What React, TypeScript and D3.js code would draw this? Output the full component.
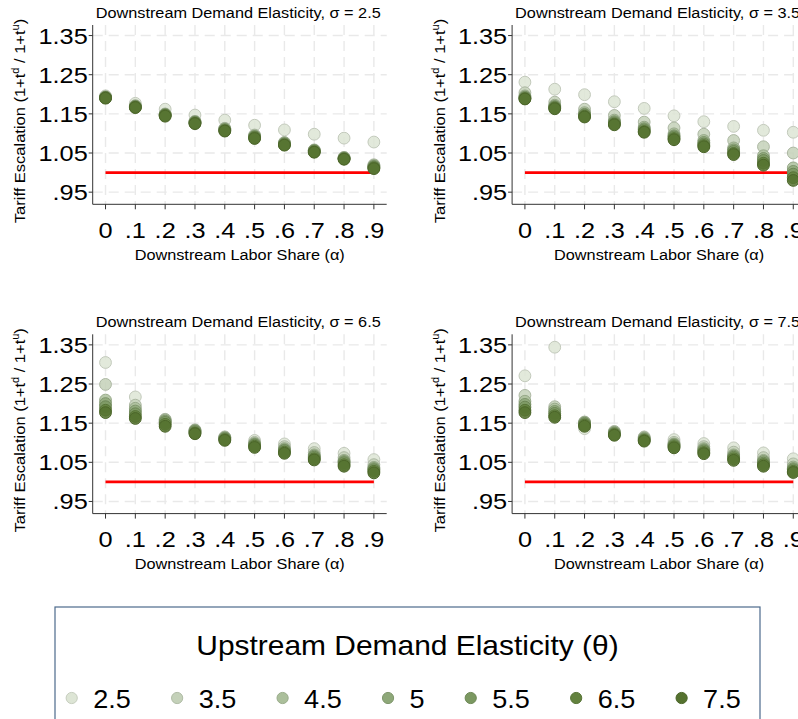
import React from 'react';
import * as d3 from 'd3';

// x categories: downstream labor share (alpha)
const alphas = [0, 0.1, 0.2, 0.3, 0.4, 0.5, 0.6, 0.7, 0.8, 0.9];
const alphaLabels = ['0', '.1', '.2', '.3', '.4', '.5', '.6', '.7', '.8', '.9'];
const yTicks = [0.95, 1.05, 1.15, 1.25, 1.35];
const yTickLabels = ['.95', '1.05', '1.15', '1.25', '1.35'];

// series: upstream demand elasticity (theta)
const thetas = ['2.5', '3.5', '4.5', '5', '5.5', '6.5', '7.5'];
const thetaColors = ['#dde5d5', '#c4d1b9', '#abbf9b', '#8ea879', '#7b9861', '#63823e', '#55722f'];

// panels: downstream demand elasticity (sigma)
const sigmas = ['2.5', '3.5', '6.5', '7.5'];

// one row per theta, one value per alpha
const sigma25 = [
  [1.196, 1.177, 1.162, 1.147, 1.134, 1.121, 1.109, 1.098, 1.088, 1.078],
  [1.194, 1.171, 1.150, 1.131, 1.113, 1.096, 1.077, 1.058, 1.039, 1.020],
  [1.193, 1.170, 1.149, 1.130, 1.112, 1.094, 1.076, 1.057, 1.038, 1.018],
  [1.192, 1.169, 1.148, 1.129, 1.110, 1.092, 1.074, 1.056, 1.037, 1.016],
  [1.192, 1.168, 1.147, 1.128, 1.109, 1.091, 1.073, 1.055, 1.036, 1.014],
  [1.191, 1.167, 1.146, 1.126, 1.107, 1.089, 1.071, 1.053, 1.035, 1.012],
  [1.190, 1.166, 1.144, 1.125, 1.106, 1.087, 1.070, 1.052, 1.034, 1.010],
];
const sigma35 = [
  [1.231, 1.213, 1.199, 1.181, 1.164, 1.145, 1.130, 1.118, 1.108, 1.103],
  [1.204, 1.180, 1.162, 1.146, 1.129, 1.114, 1.098, 1.082, 1.066, 1.050],
  [1.196, 1.172, 1.153, 1.134, 1.116, 1.099, 1.082, 1.063, 1.043, 1.012],
  [1.193, 1.169, 1.149, 1.130, 1.112, 1.094, 1.077, 1.058, 1.036, 1.003],
  [1.191, 1.167, 1.147, 1.127, 1.109, 1.091, 1.073, 1.054, 1.031, 0.996],
  [1.189, 1.165, 1.144, 1.124, 1.105, 1.087, 1.069, 1.049, 1.024, 0.987],
  [1.188, 1.163, 1.142, 1.122, 1.103, 1.084, 1.066, 1.046, 1.019, 0.980],
];
const sigma65 = [
  [1.305, 1.217, 1.150, 1.128, 1.114, 1.106, 1.097, 1.085, 1.073, 1.057],
  [1.249, 1.196, 1.160, 1.133, 1.115, 1.101, 1.090, 1.075, 1.062, 1.044],
  [1.209, 1.188, 1.158, 1.132, 1.113, 1.098, 1.085, 1.069, 1.055, 1.037],
  [1.200, 1.181, 1.155, 1.130, 1.112, 1.096, 1.082, 1.066, 1.052, 1.034],
  [1.192, 1.174, 1.152, 1.128, 1.110, 1.094, 1.080, 1.063, 1.049, 1.031],
  [1.183, 1.167, 1.147, 1.125, 1.108, 1.091, 1.076, 1.059, 1.044, 1.027],
  [1.177, 1.162, 1.142, 1.123, 1.106, 1.088, 1.073, 1.056, 1.040, 1.023],
];
const sigma75 = [
  [1.271, 1.344, 1.136, 1.126, 1.115, 1.108, 1.098, 1.087, 1.074, 1.059],
  [1.221, 1.192, 1.153, 1.129, 1.114, 1.101, 1.090, 1.076, 1.062, 1.046],
  [1.206, 1.186, 1.152, 1.127, 1.112, 1.097, 1.085, 1.069, 1.055, 1.038],
  [1.198, 1.180, 1.150, 1.125, 1.110, 1.095, 1.082, 1.066, 1.052, 1.034],
  [1.191, 1.175, 1.148, 1.123, 1.108, 1.093, 1.079, 1.063, 1.048, 1.031],
  [1.183, 1.169, 1.145, 1.121, 1.106, 1.090, 1.075, 1.059, 1.044, 1.027],
  [1.177, 1.165, 1.142, 1.119, 1.104, 1.087, 1.072, 1.055, 1.040, 1.024],
];
const panelData = [sigma25, sigma35, sigma65, sigma75];

const FONT = '"Liberation Sans", Arial, Helvetica, sans-serif';
const W = 798;
const H = 719;

const x = d3.scaleLinear().domain([-0.043, 0.943]).range([92.7, 386.7]);
const y = d3.scaleLinear().domain([0.919, 1.377]).range([204.3, 25]);

// text stretched horizontally a little, the source renders wider glyphs
function SText({ x: tx, y: ty, sx = 1, rotate = 0, children, ...rest }) {
  return (
    <text transform={`translate(${tx},${ty}) rotate(${rotate}) scale(${sx},1)`} {...rest}>
      {children}
    </text>
  );
}

function Panel({ title, data, dx, dy }) {
  const [x0, x1] = x.range();
  const [y0, y1] = y.range();
  return (
    <g transform={`translate(${dx},${dy})`}>
      {/* grid */}
      {yTicks.map(t => (
        <line key={'gy' + t} x1={x0} x2={x1} y1={y(t)} y2={y(t)}
          stroke="#e9e9e9" strokeWidth={1.4} strokeDasharray="10,6" />
      ))}
      {alphas.map(a => (
        <line key={'gx' + a} x1={x(a)} x2={x(a)} y1={y1} y2={y0}
          stroke="#e9e9e9" strokeWidth={1.4} strokeDasharray="10,6" />
      ))}
      {/* axes */}
      <line x1={x0} x2={x0} y1={y1} y2={y0} stroke="#333" strokeWidth={1} />
      <line x1={x0} x2={x1} y1={y0} y2={y0} stroke="#333" strokeWidth={1} />
      {yTicks.map((t, i) => (
        <g key={'ty' + t}>
          <line x1={x0 - 4} x2={x0} y1={y(t)} y2={y(t)} stroke="#333" />
          <SText x={x0 - 5} y={y(t)} sx={1.15} dy="0.36em" textAnchor="end" fontSize={22}>{yTickLabels[i]}</SText>
        </g>
      ))}
      {alphas.map((a, i) => (
        <g key={'tx' + a}>
          <line x1={x(a)} x2={x(a)} y1={y0} y2={y0 + 5} stroke="#333" />
          <SText x={x(a)} y={230} sx={1.15} dy="0.36em" textAnchor="middle" fontSize={22}>{alphaLabels[i]}</SText>
        </g>
      ))}
      {/* reference line at 1 */}
      <line x1={x(0)} x2={x(0.9)} y1={y(1)} y2={y(1)} stroke="#ff0000" strokeWidth={2.6} />
      {/* points */}
      {data.map((row, s) => (
        <g key={'s' + s}>
          {row.map((v, i) => (
            <circle key={i} cx={x(alphas[i])} cy={y(v)} r={5.9}
              fill={thetaColors[s]} fillOpacity={0.85}
              stroke={d3.color(thetaColors[s]).darker(0.35).formatHex()} strokeWidth={1} />
          ))}
        </g>
      ))}
      {/* titles */}
      <SText x={(x0 + x1) / 2 - 1.5} y={18} sx={1.085} textAnchor="middle" fontSize={15}>
        {`Downstream Demand Elasticity, σ = ${title}`}
      </SText>
      <SText x={(x0 + x1) / 2} y={260} sx={1.085} textAnchor="middle" fontSize={15}>Downstream Labor Share (α)</SText>
      <SText x={20} y={121} rotate={-90} sx={1.1} textAnchor="middle" dy="0.35em" fontSize={15}>
        Tariff Escalation (1+t<tspan fontSize={10} dy={-6}>d</tspan><tspan dy={6}> / 1+t</tspan>
        <tspan fontSize={10} dy={-6}>u</tspan><tspan dy={6}>)</tspan>
      </SText>
    </g>
  );
}

function Legend() {
  const charW = (s, fs) => s.split('').reduce((acc, c) => acc + (c === '.' ? 0.278 : 0.556), 0) * fs * 1.05;
  let cx = 71.7;
  const items = thetas.map((t, i) => {
    const item = { t, cx, color: thetaColors[i] };
    cx += 21.5 + charW(t, 26) + 46;
    return item;
  });
  return (
    <g>
      <rect x={55} y={607} width={705} height={140} fill="#fff" stroke="#4c6a8c" strokeWidth={1.2} />
      <SText x={407.5} y={655} sx={1.05} textAnchor="middle" fontSize={28.5}>Upstream Demand Elasticity (θ)</SText>
      {items.map(d => (
        <g key={d.t}>
          <circle cx={d.cx} cy={698} r={5.6} fill={d.color} stroke={d3.color(d.color).darker(0.3).formatHex()} strokeWidth={1} />
          <SText x={d.cx + 21.5} y={707.5} sx={1.04} fontSize={26}>{d.t}</SText>
        </g>
      ))}
    </g>
  );
}

export default function App() {
  const offsets = [[0, 0], [419.4, 0], [0, 309.3], [419.4, 309.3]];
  return (
    <svg width={W} height={H} style={{ position: 'absolute', left: 0, top: 0, background: '#fff' }}
      fontFamily={FONT} fill="#000">
      <rect width={W} height={H} fill="#fff" />
      {sigmas.map((s, i) => (
        <Panel key={s} title={s} data={panelData[i]} dx={offsets[i][0]} dy={offsets[i][1]} />
      ))}
      <Legend />
    </svg>
  );
}
